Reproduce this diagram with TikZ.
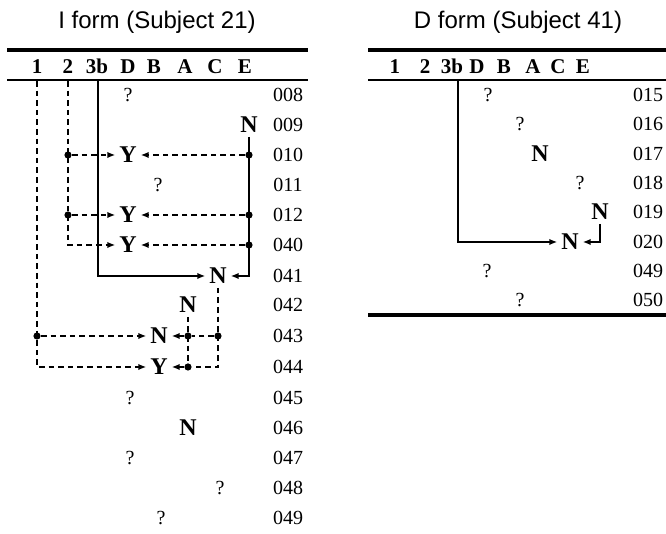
\documentclass[tikz,border=0pt]{standalone}
\usepackage{fontspec}
\setmainfont{Liberation Serif}
\newfontfamily\titlefont{Liberation Sans}
\usetikzlibrary{arrows.meta,positioning}

\begin{document}
\begin{tikzpicture}[x=0.5pt,y=-0.5pt,
    every node/.style={inner sep=0pt,font=\fontsize{10}{12}\selectfont},
    ttl/.style={font=\titlefont\fontsize{12}{14}\selectfont},
    hd/.style={font=\fontsize{10.5}{12}\selectfont\bfseries,anchor=base},
    ans/.style={font=\fontsize{12}{14}\selectfont\bfseries,outer sep=2pt},
    link/.style={line width=0.85pt},
    dlink/.style={line width=0.85pt,dash pattern=on 2.8pt off 2pt},
    arr/.style={-{Latex[length=4pt,width=3.2pt]}},
    dot/.style={circle,fill=black,minimum size=3.6pt},
    thickrule/.style={line width=1.6pt},
    thinrule/.style={line width=0.8pt}]
    \useasboundingbox (0,0) rectangle (666,534);

    % I form
    \node[ttl] (ttlI) at (157,22) {I form (Subject 21)};
    \draw[thickrule] (7,50) -- (308,50);
    \draw[thinrule] (7,80) -- (308,80);
    \node[hd] (ia1) at (37,74) {1};
    \node[hd] (ia2) at (68,74) {2};
    \node[hd] (ia3b) at (97,74) {3b};
    \node[hd] (iaD) at (128,74) {D};
    \node[hd] (iaB) at (154,74) {B};
    \node[hd] (iaA) at (185,74) {A};
    \node[hd] (iaC) at (215,74) {C};
    \node[hd] (iaE) at (245,74) {E};

    \node (r008) at (288,95) {008};
    \node (r009) at (288,125) {009};
    \node (r010) at (288,155) {010};
    \node (r011) at (288,185) {011};
    \node (r012) at (288,215) {012};
    \node (r040) at (288,245) {040};
    \node (r041) at (288,276) {041};
    \node (r042) at (288,305) {042};
    \node (r043) at (288,336) {043};
    \node (r044) at (288,367) {044};
    \node (r045) at (288,398) {045};
    \node (r046) at (288,428) {046};
    \node (r047) at (288,458) {047};
    \node (r048) at (288,488) {048};
    \node (r049) at (288,518) {049};

    \node (q008) at (128,95) {?};
    \node[ans] (n009) at (249,125) {N};
    \node[ans] (y010) at (128,155) {Y};
    \node (q011) at (158,185) {?};
    \node[ans] (y012) at (128,215) {Y};
    \node[ans] (y040) at (128,245) {Y};
    \node[ans] (n041) at (218,276) {N};
    \node[ans] (n042) at (188,305) {N};
    \node[ans] (n043) at (159,336) {N};
    \node[ans] (y044) at (159,367) {Y};
    \node (q045) at (130,398) {?};
    \node[ans] (n046) at (188,428) {N};
    \node (q047) at (130,458) {?};
    \node (q048) at (220,488) {?};
    \node (q049) at (161,518) {?};

    % column lines
    \coordinate (c1top) at (37,81);
    \coordinate (c1bot) at (c1top |- y044);
    \coordinate (c2top) at (68,81);
    \coordinate (c2bot) at (c2top |- y040);
    \coordinate (c3top) at (98,81);
    \coordinate (c3bot) at (c3top |- n041);
    \coordinate (cEbot) at (n009 |- n041);
    \coordinate (cCbot) at (n041 |- y044);

    \node[dot] (d1043) at (c1top |- n043) {};
    \node[dot] (d2010) at (c2top |- y010) {};
    \node[dot] (d2012) at (c2top |- y012) {};
    \node[dot] (dE010) at (n009 |- y010) {};
    \node[dot] (dE012) at (n009 |- y012) {};
    \node[dot] (dE040) at (n009 |- y040) {};
    \node[dot] (dA043) at (n042 |- n043) {};
    \node[dot] (dC043) at (n041 |- n043) {};
    \node[dot] (dA044) at (n042 |- y044) {};

    \draw[dlink,arr] (c1top) -- (c1bot) -- (y044);
    \draw[dlink,arr] (d1043) -- (n043);
    \draw[dlink,arr] (c2top) -- (c2bot) -- (y040);
    \draw[dlink,arr] (d2010) -- (y010);
    \draw[dlink,arr] (d2012) -- (y012);
    \draw[link,arr] (c3top) -- (c3bot) -- (n041);
    \draw[link,arr] (n009) -- (cEbot) -- (n041);
    \draw[dlink,arr] (dE010) -- (y010);
    \draw[dlink,arr] (dE012) -- (y012);
    \draw[dlink,arr] (dE040) -- (y040);
    \draw[dlink] (n041) -- (cCbot) -- (dA044);
    \draw[dlink] (n042) -- (dA044);
    \draw[dlink] (dC043) -- (dA043);
    \draw[dlink,arr] (dA043) -- (n043);
    \draw[dlink,arr] (dA044) -- (y044);

    % D form
    \node[ttl] (ttlD) at (518,22) {D form (Subject 41)};
    \draw[thickrule] (368,50) -- (666,50);
    \draw[thinrule] (368,80) -- (666,80);
    \draw[thickrule] (368,315) -- (666,315);
    \node[hd] (da1) at (395,74) {1};
    \node[hd] (da2) at (425,74) {2};
    \node[hd] (da3b) at (452,74) {3b};
    \node[hd] (daD) at (477,74) {D};
    \node[hd] (daB) at (504,74) {B};
    \node[hd] (daA) at (533,74) {A};
    \node[hd] (daC) at (558,74) {C};
    \node[hd] (daE) at (583,74) {E};

    \node (s015) at (648,95) {015};
    \node (s016) at (648,124) {016};
    \node (s017) at (648,154) {017};
    \node (s018) at (648,183) {018};
    \node (s019) at (648,212) {019};
    \node (s020) at (648,242) {020};
    \node (s049) at (648,271) {049};
    \node (s050) at (648,300) {050};

    \node (q015) at (488,95) {?};
    \node (q016) at (520,124) {?};
    \node[ans] (n017) at (540,154) {N};
    \node (q018) at (580,183) {?};
    \node[ans] (n019) at (600,212) {N};
    \node[ans] (n020) at (570,242) {N};
    \node (q049b) at (487,271) {?};
    \node (q050) at (520,300) {?};

    \coordinate (e3top) at (458,81);
    \coordinate (e3bot) at (e3top |- n020);
    \coordinate (eEbot) at (n019 |- n020);
    \draw[link,arr] (e3top) -- (e3bot) -- (n020);
    \draw[link,arr] (n019) -- (eEbot) -- (n020);
\end{tikzpicture}
\end{document}
